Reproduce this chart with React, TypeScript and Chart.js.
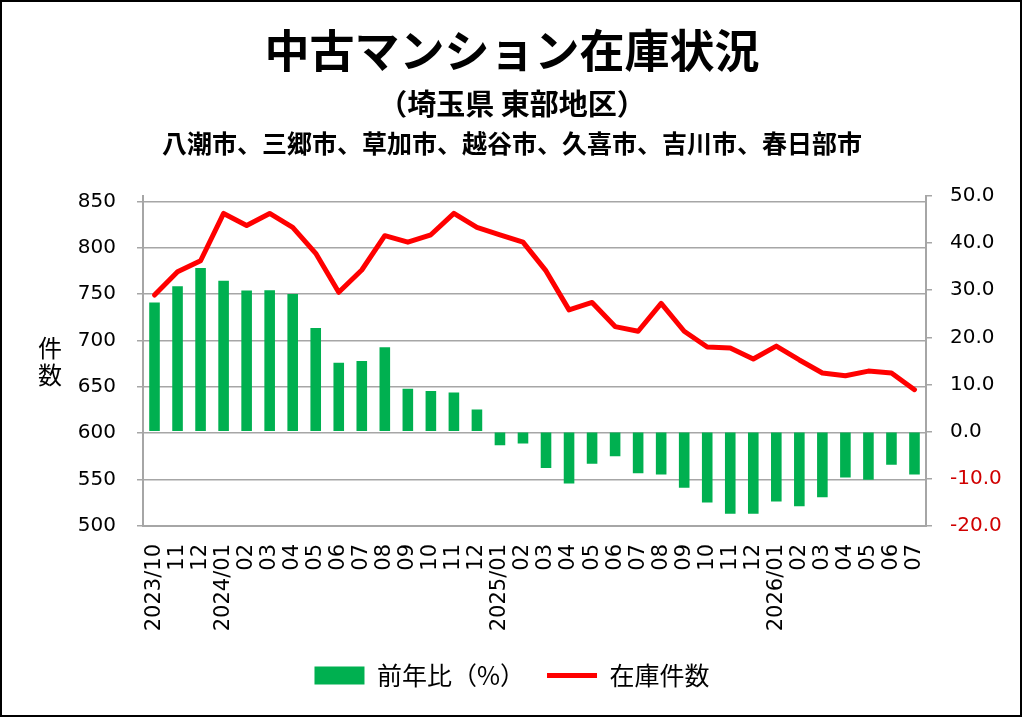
import { useEffect, useRef } from "react";
import { Chart, registerables } from "chart.js";

Chart.register(...registerables);

const months = [
  "2023/10", "11", "12",
  "2024/01", "02", "03", "04", "05", "06", "07", "08", "09", "10", "11", "12",
  "2025/01", "02", "03", "04", "05", "06", "07", "08", "09", "10", "11", "12",
  "2026/01", "02", "03", "04", "05", "06", "07",
];

// 前年比（%）
const yoyPct = [
  27.4, 30.8, 34.7,
  32.0, 29.9, 30.0, 29.2, 22.0, 14.6, 15.0, 17.9, 9.1, 8.6, 8.3, 4.7,
  -2.9, -2.5, -7.7, -11.0, -6.8, -5.2, -8.8, -9.1, -11.9, -15.0, -17.4, -17.4,
  -14.8, -15.8, -13.9, -9.7, -10.2, -7.0, -9.1,
];

// 在庫件数
const stock = [
  749, 774, 786,
  837, 824, 837, 822, 794, 752, 776, 813, 806, 814, 837, 822,
  814, 806, 775, 733, 741, 715, 710, 740, 710, 693, 692, 680,
  694, 679, 665, 662, 667, 665, 647,
];

const countTicks = [500, 550, 600, 650, 700, 750, 800, 850];

const titleText = "中古マンション在庫状況";
const subtitleText = "（埼玉県 東部地区）";
const areaText = "八潮市、三郷市、草加市、越谷市、久喜市、吉川市、春日部市";
const yTitle = ["件", "数"];

const GREEN = "#00B050";
const RED = "#FF0000";
const GRID = "#A6A6A6";
const JP = "'Noto Sans CJK JP', 'Noto Sans', sans-serif";
const NUM = "'DejaVu Sans', sans-serif";

// third heading line and the stacked y-axis title
const extraText = {
  id: "extraText",
  afterDraw(chart: any) {
    const { ctx, chartArea } = chart;
    ctx.save();
    ctx.fillStyle = "#000";
    ctx.textAlign = "center";
    ctx.textBaseline = "middle";
    ctx.font = `bold 25px ${JP}`;
    ctx.fillText(areaText, chart.width / 2, 143);
    ctx.font = `24px ${JP}`;
    const mid = (chartArea.top + chartArea.bottom) / 2;
    ctx.fillText(yTitle[0], 50, mid - 13.5);
    ctx.fillText(yTitle[1], 50, mid + 13.5);
    ctx.restore();
  },
};

function StockChart() {
  const chartRef = useRef<HTMLCanvasElement>(null);
  const chartInstance = useRef<Chart | null>(null);

  useEffect(() => {
    if (chartInstance.current) chartInstance.current.destroy();
    const ctx = chartRef.current!.getContext("2d")!;

    chartInstance.current = new Chart(ctx, {
      type: "bar",
      data: {
        labels: months,
        datasets: [
          {
            type: "bar",
            label: "前年比（%）",
            data: yoyPct,
            yAxisID: "yPct",
            backgroundColor: GREEN,
            borderWidth: 0,
            barPercentage: 0.46,
            categoryPercentage: 1,
            pointStyle: "rect",
            order: 2,
          },
          {
            type: "line",
            label: "在庫件数",
            data: stock,
            yAxisID: "yCount",
            borderColor: RED,
            backgroundColor: RED,
            borderWidth: 5,
            pointRadius: 0,
            pointStyle: "line",
            tension: 0,
            borderCapStyle: "round",
            borderJoinStyle: "round",
            order: 1,
          },
        ],
      } as any,
      options: {
        animation: false,
        responsive: true,
        maintainAspectRatio: false,
        layout: { padding: { left: 0, right: 0, top: 0, bottom: 20 } },
        plugins: {
          title: {
            display: true,
            text: titleText,
            color: "#000",
            font: { family: JP, size: 45, weight: "bold", lineHeight: 1.2 },
            padding: { top: 24, bottom: 9 },
          },
          subtitle: {
            display: true,
            text: subtitleText,
            color: "#000",
            font: { family: JP, size: 29, weight: "bold", lineHeight: 1.2 },
            padding: { top: 0, bottom: 74 },
          },
          legend: {
            position: "bottom",
            labels: {
              usePointStyle: true,
              pointStyleWidth: 50,
              boxHeight: 18,
              padding: 22,
              color: "#000",
              font: { family: JP, size: 25 },
              sort: (a: any, b: any) => a.datasetIndex - b.datasetIndex,
            },
          },
          tooltip: { enabled: false },
        },
        scales: {
          x: {
            grid: { display: false, drawTicks: false },
            border: { display: true, color: GRID, width: 2 },
            afterFit: (scale: any) => {
              scale.height = 115;
              scale.paddingLeft = 0;
              scale.paddingRight = 0;
            },
            ticks: {
              autoSkip: false,
              minRotation: 90,
              maxRotation: 90,
              padding: 18,
              color: "#000",
              font: { family: NUM, size: 21 },
            },
          },
          yCount: {
            position: "left",
            min: 500,
            max: 856,
            afterBuildTicks: (scale: any) => {
              scale.ticks = countTicks.map((value) => ({ value }));
            },
            afterFit: (scale: any) => {
              scale.width = 143;
            },
            ticks: {
              padding: 21,
              color: "#000",
              font: { family: NUM, size: 20 },
            },
            grid: { color: GRID, lineWidth: 1.5, tickLength: 6 },
            border: { color: GRID, width: 2 },
          },
          yPct: {
            position: "right",
            min: -20,
            max: 50,
            afterFit: (scale: any) => {
              scale.width = 98;
            },
            ticks: {
              stepSize: 10,
              padding: 18,
              font: { family: NUM, size: 20 },
              color: (c: any) => (c.tick && c.tick.value < 0 ? "#D00000" : "#000"),
              callback: (v: any) => Number(v).toFixed(1),
            },
            grid: { drawOnChartArea: false, color: GRID, lineWidth: 1.5, tickLength: 6 },
            border: { color: GRID, width: 2 },
          },
        },
      } as any,
      plugins: [extraText],
    });

    return () => {
      if (chartInstance.current) {
        chartInstance.current.destroy();
        chartInstance.current = null;
      }
    };
  }, []);

  return (
    <div style={{ position: "relative", width: 1024, height: 718, background: "#fff" }}>
      <canvas ref={chartRef} />
      <div
        style={{
          position: "absolute",
          left: 0,
          top: 0,
          width: 1022,
          height: 717,
          border: "2px solid #000",
          boxSizing: "border-box",
          pointerEvents: "none",
        }}
      />
    </div>
  );
}

export default function App() {
  useEffect(() => {
    document.body.style.margin = "0";
  }, []);
  return <StockChart />;
}
